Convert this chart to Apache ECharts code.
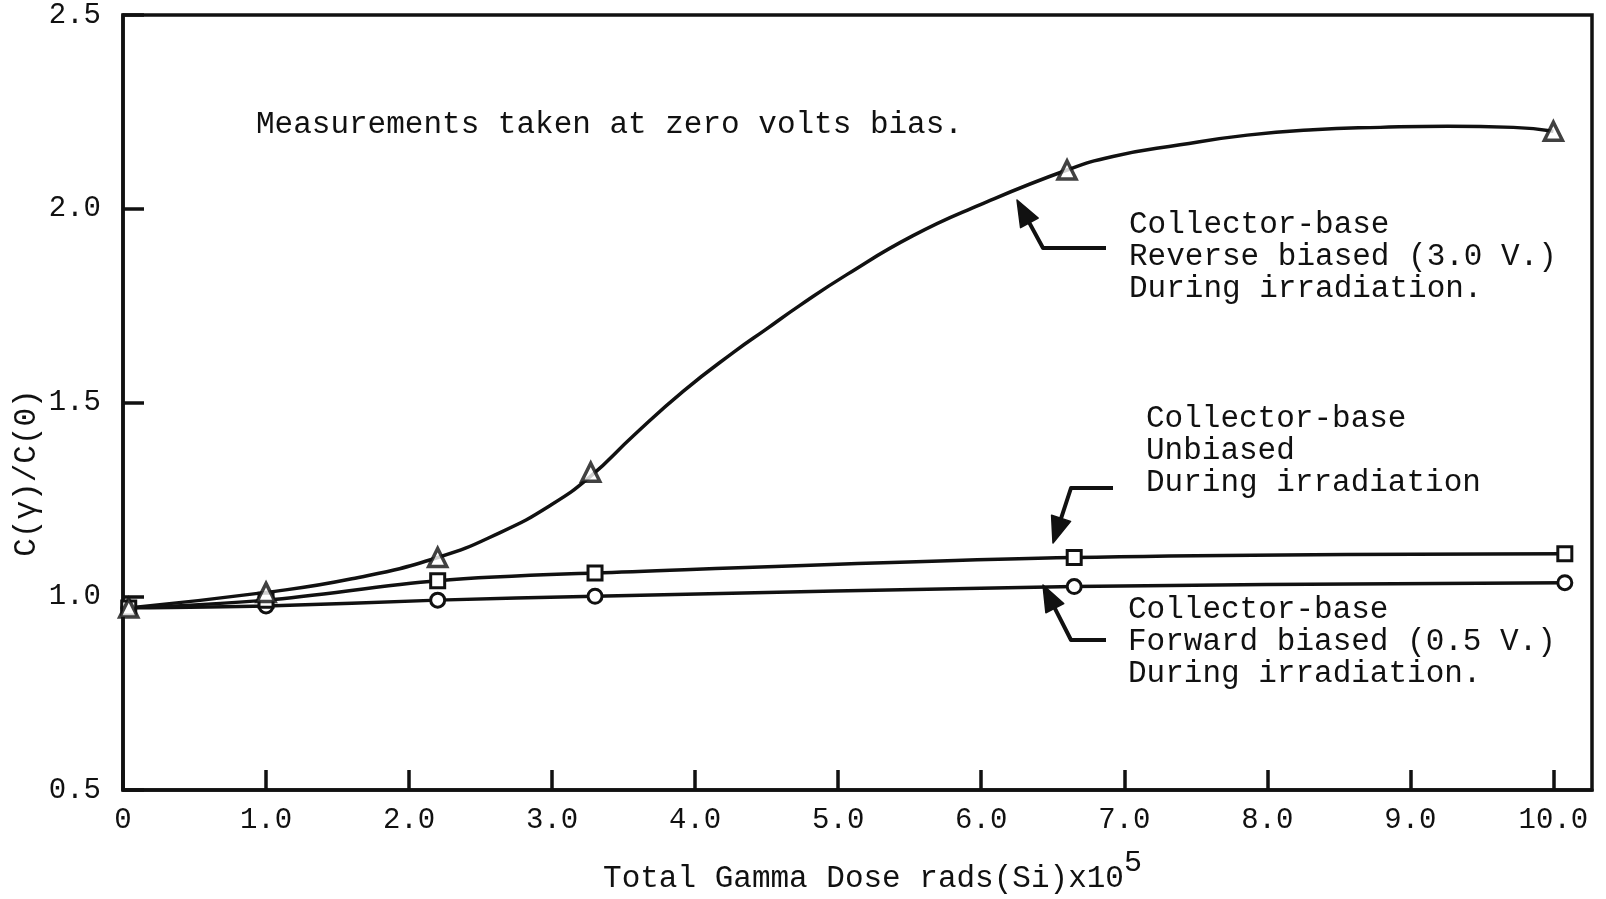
<!DOCTYPE html>
<html>
<head>
<meta charset="utf-8">
<script src="https://cdn.jsdelivr.net/npm/echarts@6/dist/echarts.min.js"></script>
<style>
html,body{margin:0;padding:0;background:#ffffff;}
#chart{width:1606px;height:899px;}
</style>
</head>
<body>
<div id="chart"></div>
<script>
// ---- tick labels ----
const xTickValues = [0, 1, 2, 3, 4, 5, 6, 7, 8, 9, 10];
const yTickValues = [0.5, 1.0, 1.5, 2.0, 2.5];

// ---- drawn curve for reverse-biased case ----
const reverseCurveDose  = [0.04, 1.0, 1.6, 2.2, 2.64, 2.99, 3.27, 3.57, 3.92, 4.27, 4.5, 4.73, 5.06, 5.52, 5.99, 6.6, 6.92, 7.39, 7.86, 8.32, 8.79, 9.26, 9.72, 10.0];
const reverseCurveRatio = [0.97, 1.01, 1.045, 1.10, 1.165, 1.235, 1.31, 1.415, 1.53, 1.63, 1.69, 1.75, 1.83, 1.93, 2.01, 2.10, 2.135, 2.165, 2.19, 2.204, 2.21, 2.213, 2.21, 2.20];

// ---- measured points ----
const reverseDose  = [0.04, 1.0, 2.2, 3.27, 6.6, 10.0];
const reverseRatio = [0.97, 1.01, 1.10, 1.32, 2.10, 2.20];

const unbiasedDose  = [0.04, 1.0, 2.2, 3.3, 6.65, 10.08];
const unbiasedRatio = [0.97, 0.99, 1.04, 1.06, 1.10, 1.11];

const forwardDose  = [0.04, 1.0, 2.2, 3.3, 6.65, 10.08];
const forwardRatio = [0.97, 0.975, 0.99, 1.0, 1.025, 1.035];

// ---- annotation texts ----
const noteTop = 'Measurements taken at zero volts bias.';
const noteReverse  = ['Collector-base', 'Reverse biased (3.0 V.)', 'During irradiation.'];
const noteUnbiased = ['Collector-base', 'Unbiased', 'During irradiation'];
const noteForward  = ['Collector-base', 'Forward biased (0.5 V.)', 'During irradiation.'];
const xAxisTitle = 'Total Gamma Dose rads(Si)x10';
const xAxisTitleExp = '5';
const yAxisTitle = 'C(\u03b3)/C(0)';

const zip = (a, b) => a.map((v, i) => [v, b[i]]);

const FONT = "'Liberation Mono', 'DejaVu Sans Mono', monospace";
const INK = '#111111';

const chart = echarts.init(document.getElementById('chart'), null, {renderer: 'canvas'});

function arrow(start, corner, tip) {
  const dx = tip[0] - corner[0], dy = tip[1] - corner[1];
  const len = Math.hypot(dx, dy);
  const ux = dx / len, uy = dy / len;
  const L = 26, W = 10;
  const bx = tip[0] - ux * L, by = tip[1] - uy * L;
  const nx = -uy, ny = ux;
  return [
    {type: 'polyline', shape: {points: [start, corner, [bx + ux * 4, by + uy * 4]]},
     style: {stroke: INK, lineWidth: 4, fill: null, lineJoin: 'round'}, z: 100},
    {type: 'polygon', shape: {points: [tip, [bx + nx * W, by + ny * W], [bx - nx * W, by - ny * W]]},
     style: {fill: INK, stroke: INK, lineWidth: 1.5, lineJoin: 'round'}, z: 100}
  ];
}

function textBlock(lines, x, top) {
  return {type: 'text', x: x, y: top, z: 100,
    style: {text: lines.join('\n'), fill: INK, font: '31px ' + FONT,
      lineHeight: 32, align: 'left', verticalAlign: 'top'}};
}

const graphics = [
  {type: 'text', x: 256, y: 125, z: 100,
   style: {text: noteTop, fill: INK, font: '31px ' + FONT, align: 'left', verticalAlign: 'middle'}},
  textBlock(noteReverse, 1129, 209),
  textBlock(noteUnbiased, 1146, 403),
  textBlock(noteForward, 1128, 594),
  {type: 'text', x: 27, y: 473, rotation: Math.PI / 2, z: 100,
   style: {text: yAxisTitle, fill: INK, font: '31px ' + FONT, align: 'center', verticalAlign: 'middle'}},
  ...arrow([1106, 248], [1043, 248], [1017, 200]),
  ...arrow([1113, 488], [1071, 488], [1053, 543]),
  ...arrow([1106, 640], [1071, 640], [1043, 585])
];

const markerStyle = {color: '#ffffff', borderColor: INK, borderWidth: 3};

const option = {
  backgroundColor: '#ffffff',
  animation: false,
  grid: {left: 123, right: 14, top: 15, bottom: 105, show: true,
         borderColor: INK, borderWidth: 3.5, backgroundColor: 'transparent'},
  xAxis: {
    type: 'value', min: 0, max: 10.27, interval: 1,
    name: '{m|' + xAxisTitle + '}{s|' + xAxisTitleExp + '}',
    nameLocation: 'middle', nameGap: 58,
    nameTextStyle: {
      rich: {
        m: {fontFamily: FONT, fontSize: 31, color: INK, lineHeight: 46, verticalAlign: 'bottom', padding: [0, 0, 0, 30]},
        s: {fontFamily: FONT, fontSize: 30, color: INK, lineHeight: 46, verticalAlign: 'top'}
      }
    },
    axisLine: {show: true, onZero: false, lineStyle: {color: INK, width: 3.5}},
    axisTick: {show: true, inside: true, length: 20, customValues: xTickValues, lineStyle: {color: INK, width: 3.5}},
    axisLabel: {show: true, customValues: xTickValues, margin: 16, fontFamily: FONT, fontSize: 29, color: INK,
      formatter: v => (v === 0 ? '0' : v.toFixed(1))},
    splitLine: {show: false}
  },
  yAxis: {
    type: 'value', min: 0.5, max: 2.5, interval: 0.5,
    axisLine: {show: true, onZero: false, lineStyle: {color: INK, width: 3.5}},
    axisTick: {show: true, inside: true, length: 21, customValues: yTickValues, lineStyle: {color: INK, width: 3.5}},
    axisLabel: {show: true, customValues: yTickValues, margin: 22, fontFamily: FONT, fontSize: 29, color: INK,
      formatter: v => v.toFixed(1)},
    splitLine: {show: false}
  },
  series: [
    {name: 'Reverse biased curve', type: 'line', data: zip(reverseCurveDose, reverseCurveRatio),
     smooth: 0.5, showSymbol: false, symbol: 'none', lineStyle: {color: INK, width: 3.5}, z: 2},
    {name: 'Reverse biased (3.0 V.)', type: 'scatter', data: zip(reverseDose, reverseRatio),
     symbol: 'triangle', symbolSize: 18, itemStyle: {color: '#ffffff', borderColor: INK, borderWidth: 3.5}, z: 5},
    {name: 'Unbiased', type: 'line', data: zip(unbiasedDose, unbiasedRatio),
     smooth: 0.35, symbol: 'rect', symbolSize: 14, showAllSymbol: true,
     lineStyle: {color: INK, width: 3.5}, itemStyle: markerStyle, z: 4},
    {name: 'Forward biased (0.5 V.)', type: 'line', data: zip(forwardDose, forwardRatio),
     smooth: 0.35, symbol: 'circle', symbolSize: 14, showAllSymbol: true,
     lineStyle: {color: INK, width: 3.5}, itemStyle: markerStyle, z: 3}
  ],
  graphic: graphics
};

chart.setOption(option);
</script>
</body>
</html>
